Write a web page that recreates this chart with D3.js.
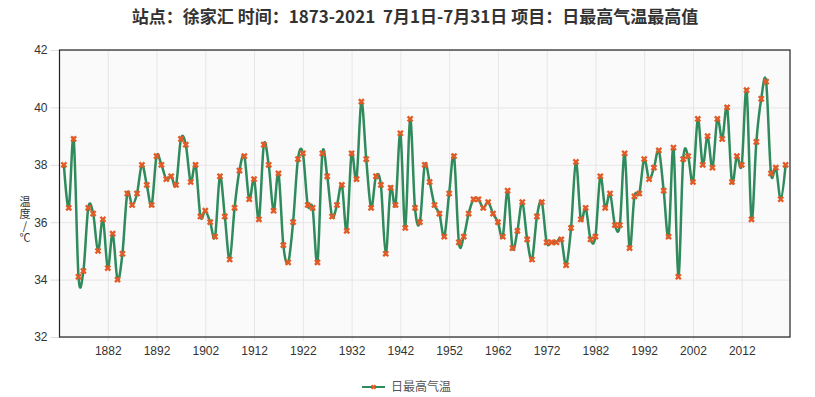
<!DOCTYPE html>
<html>
<head>
<meta charset="utf-8">
<script src="https://cdn.jsdelivr.net/npm/d3@7"></script>
<style>
  body {margin: 0; background: #fff;}
  svg text {font-family: "Noto Sans CJK SC", "Noto Sans", sans-serif;}
  svg .tick text {font-family: "Liberation Sans", Arial, sans-serif;}
</style>
</head>
<body>
<svg id="chart" width="815" height="397"></svg>
<script>
`use strict`;

const TITLE = `站点：徐家汇 时间：1873-2021  7月1日-7月31日 项目：日最高气温最高值`;

const SERIES_NAME = `日最高气温`;

const Y_TITLE = `温度/℃`;

const YEARS = d3.range(1873, 2022);

// 日最高气温最高值 (℃), 1873 -> 2021
const TMAX = [
  38.0, 36.5, 38.9, 34.1, 34.3, 36.5, 36.3, 35.0, 36.1, 34.4,
  35.6, 34.0, 34.9, 37.0, 36.6, 37.0, 38.0, 37.3, 36.6, 38.3,
  38.0, 37.5, 37.6, 37.3, 38.9, 38.7, 37.4, 38.0, 36.2, 36.4,
  36.0, 35.5, 37.6, 36.2, 34.7, 36.5, 37.8, 38.3, 36.8, 37.5,
  36.1, 38.7, 38.0, 36.4, 37.7, 35.2, 34.6, 36.0, 38.2, 38.4,
  36.6, 36.5, 34.6, 38.4, 37.6, 36.2, 36.6, 37.3, 35.7, 38.4,
  37.5, 40.2, 38.2, 36.5, 37.6, 37.3, 34.9, 37.2, 36.6, 39.1,
  35.8, 39.6, 36.5, 36.0, 38.0, 37.4, 36.6, 36.3, 35.5, 37.0,
  38.3, 35.3, 35.5, 36.3, 36.8, 36.8, 36.5, 36.7, 36.3, 36.0,
  35.5, 37.1, 35.1, 35.7, 36.7, 35.4, 34.7, 36.2, 36.7, 35.3,
  35.3, 35.3, 35.4, 34.5, 35.8, 38.1, 36.1, 36.5, 35.4, 35.5,
  37.6, 36.5, 37.0, 35.9, 35.9, 38.4, 35.1, 36.9, 37.0, 38.2,
  37.5, 37.9, 38.5, 37.1, 35.5, 38.6, 34.1, 38.2, 38.3, 37.4,
  39.6, 38.0, 39.0, 37.9, 39.6, 38.9, 40.0, 37.4, 38.3, 38.0,
  40.6, 36.1, 38.8, 40.3, 40.9, 37.7, 37.9, 36.8, 38.0
];

const X_TICKS = [1882, 1892, 1902, 1912, 1922, 1932, 1942, 1952, 1962, 1972, 1982, 1992, 2002, 2012];

const Y_TICKS = [32, 34, 36, 38, 40, 42];

const LINE_COLOR = `#2f8a5c`;
const MARK_COLOR = `#e35b26`;

(function () {

  const L = 59.5, R = 790, T = 50, B = 337;

  let rows = YEARS.map((y, i) => ({year: y, v: TMAX[i]}));

  let svg = d3.select(`#chart`);

  let x = d3.scalePoint()
    .domain(YEARS)
    .range([L, R])
    .padding(0.9);

  let y = d3.scaleLinear()
    .domain([32, 42])
    .range([B, T]);

  svg.append(`text`)
    .attr(`x`, 415)
    .attr(`y`, 23)
    .attr(`text-anchor`, `middle`)
    .style(`white-space`, `pre`)
    .style(`font-size`, `17px`)
    .style(`font-weight`, `bold`)
    .style(`fill`, `#333`)
    .text(TITLE);

  svg.append(`rect`)
    .attr(`x`, L)
    .attr(`y`, T)
    .attr(`width`, R - L)
    .attr(`height`, B - T)
    .attr(`fill`, `#fafafa`);

  // grid
  svg.append(`g`)
    .attr(`transform`, `translate(${L},0)`)
    .call(d3.axisLeft(y).tickValues(Y_TICKS).tickSize(L - R).tickFormat(``))
    .call(g => g.select(`.domain`).remove())
    .call(g => g.selectAll(`line`).attr(`stroke`, `#e6e6e6`));

  svg.append(`g`)
    .attr(`transform`, `translate(0,${B})`)
    .call(d3.axisBottom(x).tickValues(X_TICKS).tickSize(T - B).tickFormat(``))
    .call(g => g.select(`.domain`).remove())
    .call(g => g.selectAll(`line`).attr(`stroke`, `#e6e6e6`));

  // y labels
  let yAxis = svg.append(`g`)
    .attr(`transform`, `translate(${L},0)`)
    .call(d3.axisLeft(y).tickValues(Y_TICKS).tickSize(9).tickPadding(3));

  yAxis.select(`.domain`).remove();
  yAxis.selectAll(`line`).attr(`stroke`, `#ddd`);
  yAxis.selectAll(`text`)
    .style(`font-size`, `12px`)
    .style(`fill`, `#333`);

  // x labels
  let xAxis = svg.append(`g`)
    .attr(`transform`, `translate(0,${B})`)
    .call(d3.axisBottom(x).tickValues(X_TICKS).tickSize(4).tickPadding(5));

  xAxis.select(`.domain`).remove();
  xAxis.selectAll(`line`).attr(`stroke`, `#e6e6e6`);
  xAxis.selectAll(`text`)
    .style(`font-size`, `12px`)
    .style(`fill`, `#333`);

  svg.append(`rect`)
    .attr(`x`, L)
    .attr(`y`, T)
    .attr(`width`, R - L)
    .attr(`height`, B - T)
    .attr(`fill`, `none`)
    .attr(`stroke`, `#222`)
    .style(`stroke-width`, 1.2);

  // y title, vertical
  svg.append(`text`)
    .attr(`x`, 25)
    .attr(`y`, 196)
    .style(`writing-mode`, `vertical-rl`)
    .style(`text-orientation`, `upright`)
    .style(`letter-spacing`, `1px`)
    .style(`font-size`, `11px`)
    .style(`fill`, `#333`)
    .text(Y_TITLE);

  let line = d3.line()
    .x(d => x(d.year))
    .y(d => y(d.v))
    .curve(d3.curveCardinal.tension(0));

  svg.append(`path`)
    .datum(rows)
    .attr(`d`, line)
    .attr(`fill`, `none`)
    .attr(`stroke`, LINE_COLOR)
    .style(`stroke-width`, 2.5)
    .style(`stroke-linejoin`, `round`);

  let mark = d3.symbol().type(d3.symbolCross).size(28);

  svg.append(`g`).selectAll(`path`).data(rows)
    .enter()
    .append(`path`)
    .attr(`d`, mark)
    .attr(`transform`, d => `translate(${x(d.year)},${y(d.v)}) rotate(45)`)
    .attr(`fill`, MARK_COLOR);

  // legend
  let lg = svg.append(`g`).attr(`transform`, `translate(362,387)`);

  lg.append(`line`)
    .attr(`x1`, 0).attr(`x2`, 23)
    .attr(`stroke`, LINE_COLOR)
    .style(`stroke-width`, 2);

  lg.append(`path`)
    .attr(`d`, d3.symbol().type(d3.symbolCross).size(16))
    .attr(`transform`, `translate(11.5,0) rotate(45)`)
    .attr(`fill`, MARK_COLOR);

  lg.append(`text`)
    .attr(`x`, 29)
    .attr(`dy`, `0.35em`)
    .style(`font-size`, `12px`)
    .style(`fill`, `#555`)
    .text(SERIES_NAME);

})();
</script>
</body>
</html>
